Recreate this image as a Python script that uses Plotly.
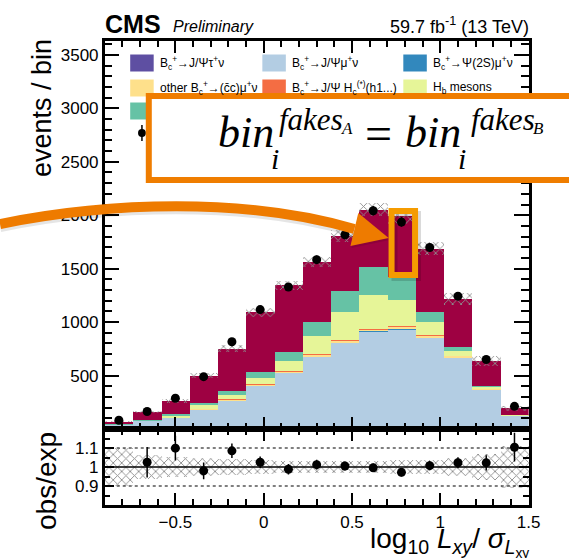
import numpy as np
import plotly.graph_objects as go

W, H = 569, 558

# ---- binning in log10(Lxy / sigma_Lxy) ----
bin_width = 0.16
bin_centers = [-0.82, -0.66, -0.50, -0.34, -0.18, -0.02, 0.14, 0.30,
               0.46, 0.62, 0.78, 0.94, 1.10, 1.26, 1.42]

# ---- stacked expectation, events per bin ----
bc_jpsi_tau = [3, 5, 6, 6, 7, 8, 9, 10, 10, 10, 10, 9, 8, 6, 4]
bc_jpsi_mu = [36, 70, 100, 176, 262, 396, 517, 666, 798, 900, 922, 848, 660, 362, 120]
bc_psi2s_mu = [1, 1, 1, 2, 2, 3, 3, 4, 4, 4, 4, 3, 3, 2, 1]
bc_other_cc = [1, 2, 3, 5, 6, 8, 10, 14, 18, 20, 20, 15, 12, 6, 2]
bc_jpsi_hc = [0, 1, 1, 2, 2, 3, 3, 4, 5, 5, 5, 4, 3, 2, 1]
hb_mesons = [2, 5, 18, 34, 35, 61, 94, 172, 260, 315, 246, 119, 42, 15, 3]
teal_bkg = [2, 4, 8, 16, 45, 51, 81, 129, 200, 260, 219, 99, 40, 6, 2]
fakes = [25, 72, 125, 259, 393, 560, 628, 566, 513, 536, 566, 589, 448, 237, 59]

# ---- observed data ----
observed = [82, 164, 288, 490, 816, 1117, 1329, 1584, 1817, 2042, 1936, 1698, 1243, 650, 212]

# relative uncertainty of the expectation (hatched band)
rel_unc = [0.10, 0.065, 0.055, 0.045, 0.04, 0.035, 0.03, 0.03, 0.03, 0.03,
           0.035, 0.037, 0.045, 0.07, 0.11]

components = [
    ("B_c→J/Ψτν", bc_jpsi_tau, "#5e4fa2"),
    ("B_c→J/Ψμν", bc_jpsi_mu, "#b3cde3"),
    ("B_c→Ψ(2S)μν", bc_psi2s_mu, "#3288bd"),
    ("other B_c→(cc)μν", bc_other_cc, "#fee08b"),
    ("B_c→J/Ψ H_c", bc_jpsi_hc, "#f46d43"),
    ("H_b mesons", hb_mesons, "#e6f598"),
    ("other", teal_bkg, "#66c2a5"),
    ("fakes", fakes, "#9e0142"),
]

x = np.array(bin_centers)
obs = np.array(observed, float)
unc = np.array(rel_unc)

fig = go.Figure()

cum = np.zeros(len(x))
for name, vals, col in components:
    v = np.array(vals, float)
    fig.add_trace(go.Bar(x=x, y=v, base=cum.copy(), width=bin_width, name=name,
                         marker=dict(color=col, line=dict(width=0)),
                         xaxis="x", yaxis="y"))
    cum += v
total = cum.copy()

hatch = dict(shape="x", fgcolor="#8c8c8c", bgcolor="rgba(0,0,0,0)", size=6,
             solidity=0.28, fillmode="replace")
clear = "rgba(0,0,0,0)"

# expectation uncertainty on top of the stack
fig.add_trace(go.Bar(x=x, y=2 * unc * total, base=total * (1 - unc), width=bin_width,
                     marker=dict(color=clear, line=dict(width=0), pattern=hatch),
                     xaxis="x", yaxis="y"))

fig.add_trace(go.Scatter(x=x, y=obs, mode="markers",
                         marker=dict(color="black", size=9),
                         error_y=dict(type="data", array=np.sqrt(obs), color="black",
                                      thickness=1.5, width=0),
                         xaxis="x", yaxis="y"))

# ---- ratio panel ----
fig.add_trace(go.Bar(x=x, y=2 * unc, base=1 - unc, width=bin_width,
                     marker=dict(color=clear, line=dict(width=0), pattern=hatch),
                     xaxis="x2", yaxis="y2"))
for lvl, dash, lw in [(1.0, "solid", 1.3), (1.1, "dot", 1.1), (0.9, "dot", 1.1)]:
    fig.add_trace(go.Scatter(x=[-0.9, 1.5], y=[lvl, lvl], mode="lines",
                             line=dict(color="black", width=lw, dash=dash),
                             xaxis="x2", yaxis="y2"))

ratio = obs / total
ratio_err = np.sqrt(obs) / total
# ratio points start from the second bin
fig.add_trace(go.Scatter(x=x[1:], y=ratio[1:], mode="markers",
                         marker=dict(color="black", size=9),
                         error_y=dict(type="data", array=ratio_err[1:], color="black",
                                      thickness=1.5, width=0),
                         xaxis="x2", yaxis="y2"))


def px(xp):
    return xp / W


def py(yp):
    return 1 - yp / H


tickfont = dict(family="Liberation Sans", size=17, color="black")
frame = dict(showline=True, linewidth=2.5, linecolor="black", mirror="ticks",
             showgrid=False, zeroline=False, ticks="inside", tickcolor="black",
             tickwidth=1.5)

fig.update_layout(
    width=W, height=H, margin=dict(l=0, r=0, t=0, b=0),
    paper_bgcolor="white", plot_bgcolor="white",
    showlegend=False, barmode="overlay", bargap=0,
    font=dict(family="Liberation Sans", color="black"),
    xaxis=dict(domain=[px(107), px(540)], range=[-0.9, 1.5], anchor="y",
               showticklabels=False, tickvals=[-0.5, 0, 0.5, 1, 1.5], ticklen=12,
               minor=dict(ticks="inside", dtick=0.1, tick0=0, ticklen=6,
                          tickcolor="black", tickwidth=1.5),
               **frame),
    yaxis=dict(domain=[py(429), py(41)], range=[0, 3630], anchor="x",
               tickvals=[500, 1000, 1500, 2000, 2500, 3000, 3500], ticklen=15,
               tickfont=tickfont,
               minor=dict(ticks="inside", dtick=100, tick0=0, ticklen=8,
                          tickcolor="black", tickwidth=1.5),
               **frame),
    xaxis2=dict(domain=[px(107), px(540)], range=[-0.9, 1.5], anchor="y2",
                tickvals=[-0.5, 0, 0.5, 1, 1.5],
                ticktext=["\u22120.5", "0", "0.5", "1", "1.5"],
                ticklen=12, tickfont=tickfont,
                minor=dict(ticks="inside", dtick=0.1, tick0=0, ticklen=6,
                           tickcolor="black", tickwidth=1.5),
                **frame),
    yaxis2=dict(domain=[py(505), py(429)], range=[0.8, 1.2], anchor="x2",
                tickvals=[0.9, 1.0, 1.1], ticktext=["0.9", "1", "1.1"],
                ticklen=10, tickfont=tickfont,
                minor=dict(ticks="inside", dtick=0.05, tick0=0.8, ticklen=6,
                           tickcolor="black", tickwidth=1.5),
                **frame),
)

annotations = []


def label(text, xp, yp, size, family="Liberation Sans", xanchor="left",
          yanchor="middle", angle=0, color="black"):
    annotations.append(dict(text=text, x=px(xp), y=py(yp), xref="paper", yref="paper",
                            xanchor=xanchor, yanchor=yanchor, showarrow=False,
                            textangle=angle, borderpad=0,
                            font=dict(family=family, size=size, color=color)))


# header
label("<b>CMS</b>", 106, 24, 25)
label("<i>Preliminary</i>", 176, 27, 16)
label("59.7 fb<sup>-1</sup> (13 TeV)", 541, 25, 18, xanchor="right")

# axis titles
label("events / bin", 43, 108, 27, xanchor="center", angle=-90)
label("obs/exp", 47, 481, 28, xanchor="center", angle=-90)
label("log<sub>10</sub> <i>L<sub>xy</sub></i>/ <i>σ</i><sub><i>L</i><sub>xy</sub></sub>",
      541, 542, 28, xanchor="right")

# legend entries
legend_cols = [133, 268, 412]
legend_rows = [63, 88, 111]
legend_items = [
    (0, 0, "#5e4fa2", "B<sub>c</sub><sup>+</sup>→J/Ψτ<sup>+</sup>ν"),
    (0, 1, "#b3cde3", "B<sub>c</sub><sup>+</sup>→J/Ψμ<sup>+</sup>ν"),
    (0, 2, "#3288bd", "B<sub>c</sub><sup>+</sup>→Ψ(2S)μ<sup>+</sup>ν"),
    (1, 0, "#fee08b", "other B<sub>c</sub><sup>+</sup>→(c\u0304c)μ<sup>+</sup>ν"),
    (1, 1, "#f46d43", "B<sub>c</sub><sup>+</sup>→J/Ψ H<sub>c</sub><sup>(*)</sup>(h1...)"),
    (1, 2, "#e6f598", "H<sub>b</sub> mesons"),
    (2, 0, "#66c2a5", None),
]

shapes = []


def rect(x0, y0, x1, y1, fill=None, line=None, lw=0):
    shapes.append(dict(type="rect", xref="paper", yref="paper", layer="above",
                       x0=px(x0), x1=px(x1), y0=py(y1), y1=py(y0),
                       fillcolor=fill if fill else clear,
                       line=dict(color=line if line else clear, width=lw)))


def path(cmd, fill=None, line=None, lw=0):
    shapes.append(dict(type="path", xref="paper", yref="paper", layer="above",
                       path=cmd, fillcolor=fill if fill else clear,
                       line=dict(color=line if line else clear, width=lw)))


def pt(xp, yp):
    return f"{px(xp):.5f},{py(yp):.5f}"


for r, c, col, txt in legend_items:
    cx, cy = legend_cols[c], legend_rows[r]
    rect(cx, cy - 8.5, cx + 24, cy + 8.5, fill=col)
    if txt:
        label(txt, cx + 29, cy, 12)

# observed-data legend marker
shapes.append(dict(type="line", xref="paper", yref="paper", layer="above",
                   x0=px(145), x1=px(145), y0=py(125), y1=py(141),
                   line=dict(color="black", width=1.5)))
shapes.append(dict(type="circle", xref="paper", yref="paper", layer="above",
                   x0=px(141), x1=px(149), y0=py(137), y1=py(129),
                   fillcolor="black", line=dict(color="black", width=0)))

# curved arrow pointing at the highlighted bin
arrow_orange = "#ee7b00"
path(f"M {pt(0, 226)} C {pt(110, 204)} {pt(250, 199)} {pt(362, 231)}",
     line="rgba(0,0,0,0.10)", lw=12)
path(f"M {pt(0, 224)} C {pt(110, 202)} {pt(250, 197)} {pt(362, 229)}",
     line=arrow_orange, lw=10)
path(f"M {pt(367, 215)} L {pt(359, 248)} L {pt(398, 240)} Z", fill="rgba(0,0,0,0.10)")
path(f"M {pt(366, 213)} L {pt(358, 246)} L {pt(397, 238)} Z", fill=arrow_orange)

# highlighted bin frame
rect(403, 214, 427, 278, line="rgba(0,0,0,0.15)", lw=6)
rect(400, 211, 424, 275, line="#f59b00", lw=6)

# equation box
rect(152, 96, 620, 180, fill="white", line="#ef7d00", lw=6)

serif = "Liberation Serif"
label("<i>bin</i>", 222, 133, 44, family=serif)
label("<i>i</i>", 276, 158, 30, family=serif)
label("<i>fakes</i>", 284, 119.5, 31, family=serif)
label("<i>A</i>", 347, 128.5, 17, family=serif)
label("=", 372, 134, 48, family=serif)
label("<i>bin</i>", 413, 133, 44, family=serif)
label("<i>i</i>", 467, 158, 30, family=serif)
label("<i>fakes</i>", 480, 119.5, 31, family=serif)
label("<i>B</i>", 543, 128.5, 17, family=serif)

fig.update_layout(shapes=shapes, annotations=annotations)
fig.write_html("out.html")
